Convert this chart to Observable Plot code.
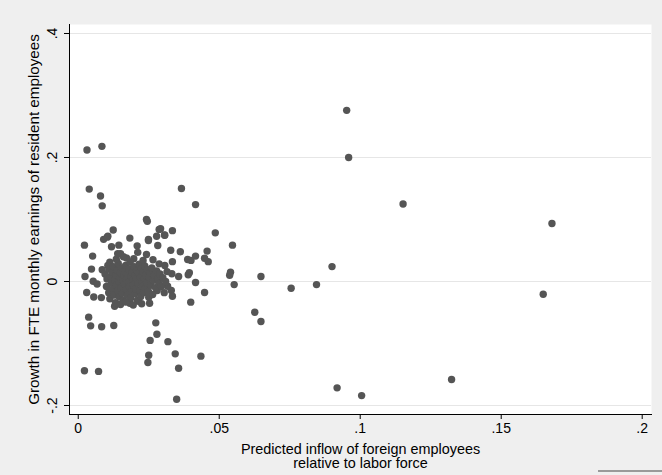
<!DOCTYPE html>
<html>
<head>
<meta charset="utf-8">
<script src="https://cdn.jsdelivr.net/npm/d3@7"></script>
<script src="https://cdn.jsdelivr.net/npm/@observablehq/plot@0.6"></script>
<style>
  html, body { margin: 0; padding: 0; background: #efefef; }
  #wrap { position: relative; width: 662px; height: 475px; overflow: hidden; }
  #corner { position: absolute; left: 598px; top: 470px; width: 64px; height: 2px; background: #9a9a9a; }
</style>
</head>
<body>
<div id="wrap"><div id="corner"></div></div>
<script>
// Predicted inflow of foreign employees relative to labor force (x)
const inflow = [
  0.0031, 0.0084, 0.0039, 0.0079, 0.0085, 0.0366, 0.0416, 0.0952, 0.0959, 0.1152,
  0.1680, 0.1649, 0.1324, 0.0918, 0.1005, 0.0349, 0.0022, 0.0072, 0.0547, 0.0540,
  0.0537, 0.0553, 0.0648, 0.0755, 0.0845, 0.0900, 0.0626, 0.0648, 0.0242, 0.0245,
  0.0124, 0.0287, 0.0306, 0.0334, 0.0486, 0.0105, 0.0090, 0.0183, 0.0249, 0.0278,
  0.0292, 0.0022, 0.0051, 0.0047, 0.0024, 0.0030, 0.0055, 0.0082, 0.0037, 0.0044,
  0.0083, 0.0126, 0.0275, 0.0279, 0.0255, 0.0318, 0.0344, 0.0250, 0.0247, 0.0356,
  0.0435, 0.0399, 0.0448, 0.0416, 0.0457, 0.0461, 0.0448, 0.0416, 0.0388, 0.0400,
  0.0362, 0.0328, 0.0334, 0.0332, 0.0356, 0.0390, 0.0394, 0.0330, 0.0334, 0.0317,
  0.0280, 0.0253, 0.0250, 0.0213, 0.0183, 0.0129, 0.0103, 0.0144, 0.0118, 0.0209,
  0.0249, 0.0282, 0.0307, 0.0211, 0.0150, 0.0242, 0.0265, 0.0287, 0.0307, 0.0197,
  0.0171, 0.0112, 0.0105, 0.0085, 0.0053, 0.0067,
  0.0095, 0.0100, 0.0102, 0.0108, 0.0110, 0.0112, 0.0115, 0.0118, 0.0120, 0.0122,
  0.0125, 0.0127, 0.0130, 0.0132, 0.0134, 0.0136, 0.0138, 0.0140, 0.0142, 0.0144,
  0.0146, 0.0148, 0.0150, 0.0152, 0.0154, 0.0156, 0.0158, 0.0160, 0.0162, 0.0164,
  0.0166, 0.0168, 0.0170, 0.0172, 0.0174, 0.0176, 0.0178, 0.0180, 0.0182, 0.0184,
  0.0186, 0.0188, 0.0190, 0.0192, 0.0194, 0.0196, 0.0198, 0.0200, 0.0202, 0.0204,
  0.0206, 0.0208, 0.0210, 0.0212, 0.0214, 0.0216, 0.0218, 0.0220, 0.0222, 0.0224,
  0.0226, 0.0228, 0.0230, 0.0232, 0.0234, 0.0236, 0.0238, 0.0240, 0.0243, 0.0246,
  0.0249, 0.0252, 0.0255, 0.0258, 0.0261, 0.0264, 0.0267, 0.0270, 0.0274, 0.0278,
  0.0282, 0.0286, 0.0290, 0.0295, 0.0300, 0.0305, 0.0310, 0.0315,
  0.0150, 0.0168, 0.0195, 0.0225, 0.0135, 0.0160, 0.0230, 0.0140
];
// Growth in FTE monthly earnings of resident employees (y)
const growth = [
  0.212, 0.218, 0.149, 0.138, 0.122, 0.150, 0.124, 0.276, 0.200, 0.125,
  0.0935, -0.0205, -0.158, -0.1715, -0.184, -0.190, -0.144, -0.145, 0.0586, 0.015,
  0.010, -0.005, 0.008, -0.011, -0.005, 0.024, -0.0495, -0.0645, 0.100, 0.097,
  0.083, 0.084, 0.075, 0.082, 0.0785, 0.073, 0.068, 0.070, 0.068, 0.073,
  0.085, 0.0586, 0.041, 0.020, 0.008, -0.0177, -0.025, -0.026, -0.0575, -0.0715,
  -0.073, -0.071, -0.0667, -0.085, -0.095, -0.097, -0.1167, -0.119, -0.1306, -0.140,
  -0.1204, -0.0333, -0.0177, -0.0016, 0.049, 0.032, 0.0376, 0.041, 0.0355, 0.034,
  0.048, 0.0505, 0.032, 0.0124, 0.008, 0.0108, 0.014, -0.0145, -0.0237, -0.0076,
  -0.0145, -0.035, -0.0253, -0.032, -0.035, -0.040, 0.0715, 0.0586, 0.056, 0.0575,
  0.066, 0.058, 0.0747, 0.047, 0.0447, 0.0435, 0.035, 0.0285, 0.026, 0.0366,
  0.038, 0.031, 0.026, 0.019, 0.0005, -0.004,
  0.012, -0.008, 0.004, -0.018, 0.020, -0.028, 0.008, -0.002, 0.015, -0.012,
  0.024, -0.022, 0.003, -0.034, 0.011, -0.006, 0.018, -0.015, 0.029, 0.000,
  -0.025, 0.007, 0.014, -0.010, 0.022, -0.019, 0.003, -0.030, 0.010, -0.004,
  0.017, 0.026, -0.013, 0.005, -0.022, 0.012, -0.001, 0.020, -0.009, 0.031,
  -0.027, 0.008, -0.016, 0.015, 0.002, -0.006, 0.024, -0.020, 0.010, -0.012,
  0.004, 0.018, -0.030, -0.003, 0.013, 0.028, -0.015, 0.007, -0.024, 0.021,
  0.000, -0.008, 0.015, -0.018, 0.005, 0.025, -0.011, 0.011, -0.002, 0.019,
  -0.016, 0.006, 0.014, -0.006, 0.022, -0.021, 0.002, 0.010, -0.010, 0.017,
  0.004, -0.003, 0.012, -0.008, 0.006, -0.018, 0.000, 0.016,
  -0.037, -0.033, -0.038, -0.036, 0.036, 0.040, 0.034, 0.045
];
const xTicks = [0, 0.05, 0.1, 0.15, 0.2];
const xTickLabels = ["0", ".05", ".1", ".15", ".2"];
const yTicks = [-0.2, 0, 0.2, 0.4];
const yTickLabels = ["-.2", "0", ".2", ".4"];
const xTitle = ["Predicted inflow of foreign employees", "relative to labor force"];
const yTitle = "Growth in FTE monthly earnings of resident employees";

const points = inflow.map((x, i) => ({x, y: growth[i]}));
const font = "'Liberation Sans', Arial, sans-serif";

const chart = Plot.plot({
  width: 662,
  height: 475,
  marginLeft: 69,
  marginRight: 11,
  marginTop: 24,
  marginBottom: 61,
  style: {background: "#efefef", fontFamily: font, fontSize: "14px", color: "#000"},
  x: {domain: [-0.0031, 0.2033], axis: null},
  y: {domain: [-0.2145, 0.4145], axis: null},
  marks: [
    Plot.frame({fill: "#ffffff", stroke: null}),
    Plot.ruleY(yTicks, {stroke: "#e6e6e6", strokeWidth: 1.2}),
    Plot.dot(points, {x: "x", y: "y", r: 3.7, fill: "#555555", stroke: null}),
    Plot.frame({anchor: "left", stroke: "#000", strokeWidth: 1}),
    Plot.frame({anchor: "bottom", stroke: "#000", strokeWidth: 1}),
    Plot.text(yTicks, {y: d => d, text: (d, i) => yTickLabels[i], frameAnchor: "left", dx: -17, rotate: -90, textAnchor: "middle", lineAnchor: "middle", fontSize: 14, fill: "#000"}),
    Plot.text(xTicks, {x: d => d, text: (d, i) => xTickLabels[i], frameAnchor: "bottom", dy: 18, fontSize: 14, fill: "#000"}),
    Plot.text([xTitle.join("\n")], {frameAnchor: "bottom", dy: 42, lineAnchor: "middle", lineHeight: 1.0, fontSize: 14.4, fill: "#000"}),
    Plot.text([yTitle], {frameAnchor: "left", dx: -35, rotate: -90, textAnchor: "middle", lineAnchor: "middle", fontSize: 15.2, fill: "#000"}),
    Plot.axisY(yTicks, {tickSize: 5, tickFormat: () => "", stroke: "#000", label: null}),
    Plot.axisX(xTicks, {tickSize: 5, tickFormat: () => "", stroke: "#000", label: null})
  ]
});
document.getElementById("wrap").prepend(chart);
</script>
</body>
</html>
